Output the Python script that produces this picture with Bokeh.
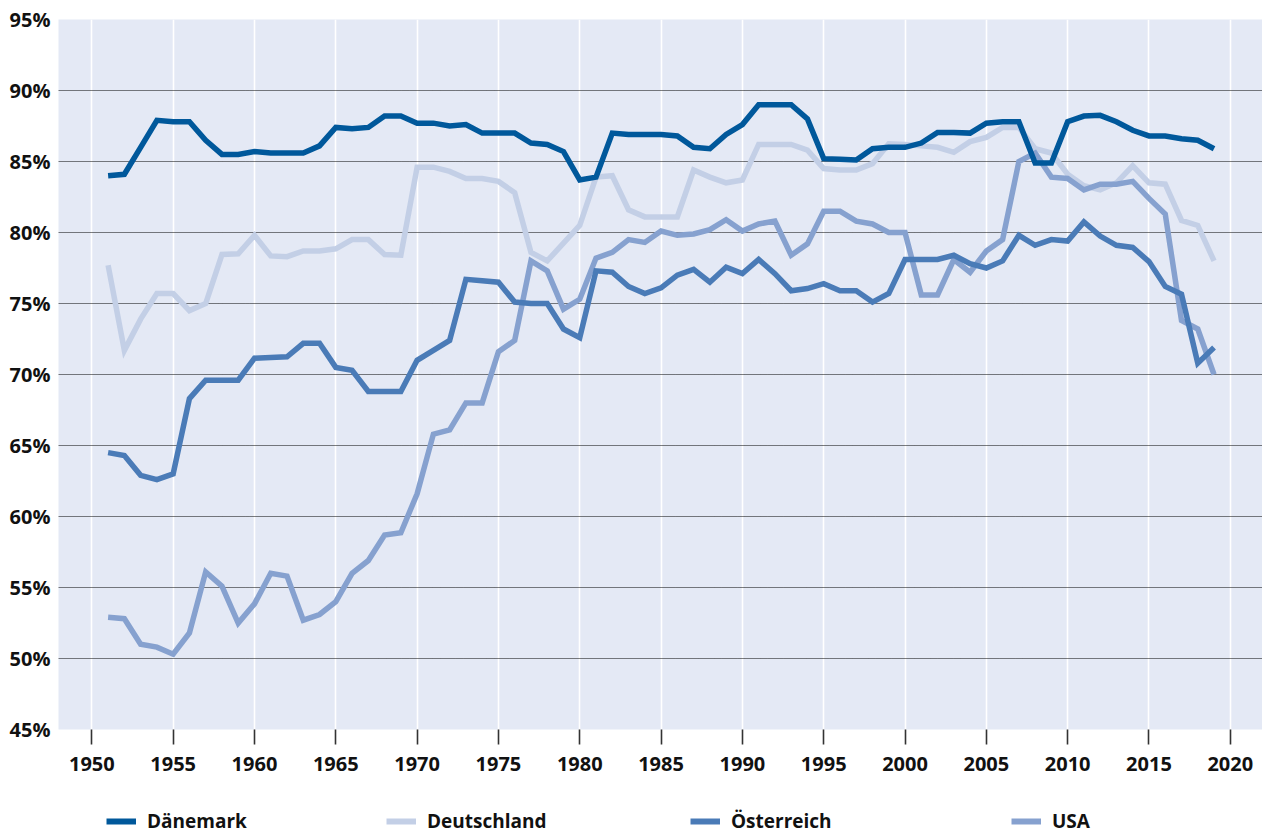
from bokeh.plotting import figure
from bokeh.layouts import column
from bokeh.models import FixedTicker, Legend, LegendItem, Range1d
from bokeh.embed import file_html
from bokeh.resources import INLINE

years = list(range(1951, 2020))

daenemark = [84.0, 84.1, 86.0, 87.9, 87.8, 87.8, 86.5, 85.5, 85.5, 85.7,
             85.6, 85.6, 85.6, 86.1, 87.4, 87.3, 87.4, 88.2, 88.2, 87.7,
             87.7, 87.5, 87.6, 87.0, 87.0, 87.0, 86.3, 86.2, 85.7, 83.7,
             83.9, 87.0, 86.9, 86.9, 86.9, 86.8, 86.0, 85.9, 86.9, 87.6,
             89.0, 89.0, 89.0, 88.0, 85.2, 85.15, 85.1, 85.9, 86.0, 86.0,
             86.3, 87.05, 87.05, 87.0, 87.7, 87.8, 87.8, 84.9, 84.9, 87.8,
             88.2, 88.25, 87.8, 87.2, 86.8, 86.8, 86.6, 86.5, 85.9]

deutschland = [77.7, 71.7, 73.9, 75.7, 75.7, 74.5, 75.0, 78.45, 78.5, 79.8,
               78.35, 78.3, 78.7, 78.7, 78.85, 79.5, 79.5, 78.45, 78.4, 84.6,
               84.6, 84.3, 83.8, 83.8, 83.6, 82.8, 78.6, 78.0, 79.25, 80.5,
               83.9, 84.0, 81.6, 81.1, 81.1, 81.1, 84.4, 83.9, 83.5, 83.7,
               86.2, 86.2, 86.2, 85.8, 84.5, 84.4, 84.4, 84.85, 86.25, 86.2,
               86.1, 86.0, 85.65, 86.4, 86.7, 87.4, 87.4, 85.9, 85.6, 84.1,
               83.3, 83.0, 83.5, 84.7, 83.5, 83.4, 80.85, 80.5, 78.0]

oesterreich = [64.5, 64.3, 62.9, 62.6, 63.0, 68.3, 69.6, 69.6, 69.6, 71.15,
               71.2, 71.25, 72.2, 72.2, 70.5, 70.3, 68.8, 68.8, 68.8, 71.0,
               71.7, 72.4, 76.7, 76.6, 76.5, 75.1, 75.0, 75.0, 73.2, 72.6,
               77.3, 77.2, 76.2, 75.7, 76.1, 77.0, 77.4, 76.5, 77.55, 77.1,
               78.1, 77.1, 75.9, 76.05, 76.4, 75.9, 75.9, 75.1, 75.7, 78.1,
               78.1, 78.1, 78.4, 77.8, 77.5, 78.0, 79.8, 79.1, 79.5, 79.4,
               80.75, 79.75, 79.1, 78.95, 77.95, 76.2, 75.65, 70.8, 71.9]

usa = [52.9, 52.8, 51.0, 50.8, 50.3, 51.8, 56.1, 55.1, 52.5, 53.85,
       56.0, 55.8, 52.7, 53.1, 54.0, 56.0, 56.9, 58.7, 58.85, 61.6,
       65.8, 66.1, 68.0, 68.0, 71.6, 72.4, 78.0, 77.3, 74.6, 75.3,
       78.2, 78.6, 79.5, 79.3, 80.1, 79.8, 79.9, 80.2, 80.9, 80.1,
       80.6, 80.8, 78.4, 79.2, 81.5, 81.5, 80.8, 80.6, 80.0, 80.0,
       75.6, 75.6, 78.1, 77.2, 78.7, 79.5, 85.0, 85.6, 83.9, 83.8,
       83.0, 83.4, 83.4, 83.6, 82.4, 81.3, 73.8, 73.2, 70.0]

series_names = ["Dänemark", "Deutschland", "Österreich", "USA"]
series_colors = ["#00589b", "#c3cfe6", "#4a7bb7", "#86a1cf"]

x_ticks = [1950, 1955, 1960, 1965, 1970, 1975, 1980, 1985, 1990, 1995,
           2000, 2005, 2010, 2015, 2020]
y_ticks = [45, 50, 55, 60, 65, 70, 75, 80, 85, 90, 95]
y_labels = ["45%", "50%", "55%", "60%", "65%", "70%", "75%", "80%", "85%",
            "90%", "95%"]

FONT = "Open Sans"
FSIZE = "20px"
LEG_FSIZE = "19px"
LW = 5.5

p = figure(width=1262, height=793, output_backend="svg", toolbar_location=None,
           x_range=Range1d(1947.95, 2021.98), y_range=Range1d(45, 95),
           min_border_left=58, min_border_right=0, min_border_top=19,
           min_border_bottom=64)
p.outline_line_color = None
p.background_fill_color = "#e4e9f5"
p.border_fill_color = "white"

# grids
p.xgrid.ticker = FixedTicker(ticks=x_ticks)
p.xgrid.grid_line_color = "white"
p.xgrid.grid_line_width = 1.6
p.ygrid.ticker = FixedTicker(ticks=y_ticks[1:])
p.ygrid.grid_line_color = "#000000"
p.ygrid.grid_line_width = 1
p.ygrid.grid_line_dash = "1 1"

# x axis
xa = p.xaxis[0]
xa.ticker = FixedTicker(ticks=x_ticks)
xa.axis_line_color = None
xa.major_tick_line_color = "#333333"
xa.major_tick_line_width = 1.6
xa.major_tick_out = 15
xa.major_tick_in = 0
xa.minor_tick_line_color = None
xa.major_label_standoff = 12
xa.major_label_text_font = FONT
xa.major_label_text_font_style = "bold"
xa.major_label_text_font_size = FSIZE
xa.major_label_text_color = "#111111"

# y axis
ya = p.yaxis[0]
ya.ticker = FixedTicker(ticks=y_ticks)
ya.major_label_overrides = {t: l for t, l in zip(y_ticks, y_labels)}
ya.axis_line_color = None
ya.major_tick_line_color = None
ya.major_tick_out = 0
ya.major_tick_in = 0
ya.minor_tick_line_color = None
ya.major_label_standoff = 8
ya.major_label_text_font = FONT
ya.major_label_text_font_style = "bold"
ya.major_label_text_font_size = FSIZE
ya.major_label_text_color = "#111111"

data = {"Dänemark": daenemark, "Deutschland": deutschland,
        "Österreich": oesterreich, "USA": usa}
for name in ["Deutschland", "USA", "Österreich", "Dänemark"]:
    color = series_colors[series_names.index(name)]
    p.line(years, data[name], line_color=color, line_width=LW,
           line_join="miter")

# legend strip below the chart (series drawn out of view, only used as keys)
lg_fig = figure(width=1262, height=40, output_backend="svg",
                toolbar_location=None, x_axis_location=None,
                y_axis_location=None, min_border=0,
                x_range=Range1d(0, 1), y_range=Range1d(0, 1))
lg_fig.outline_line_color = None
lg_fig.grid.visible = False
lg_fig.background_fill_color = "white"
lg_fig.border_fill_color = "white"

legend_x = [106, 386, 690, 1011]
frame_left = 58
for name, color, lx in zip(series_names, series_colors, legend_x):
    r = lg_fig.line(years, data[name], line_color=color, line_width=6)
    lg = Legend(items=[LegendItem(label=name, renderers=[r])],
                location=(lx - frame_left, -1), orientation="horizontal",
                glyph_width=30, glyph_height=16, label_height=16,
                label_standoff=11, padding=0, margin=0, spacing=0,
                background_fill_alpha=0, border_line_alpha=0,
                label_text_font=FONT, label_text_font_style="bold",
                label_text_font_size=LEG_FSIZE, label_text_color="#111111")
    lg_fig.add_layout(lg, "center")

layout = column(p, lg_fig, spacing=0)
open("out.html", "w").write(file_html(layout, INLINE))
